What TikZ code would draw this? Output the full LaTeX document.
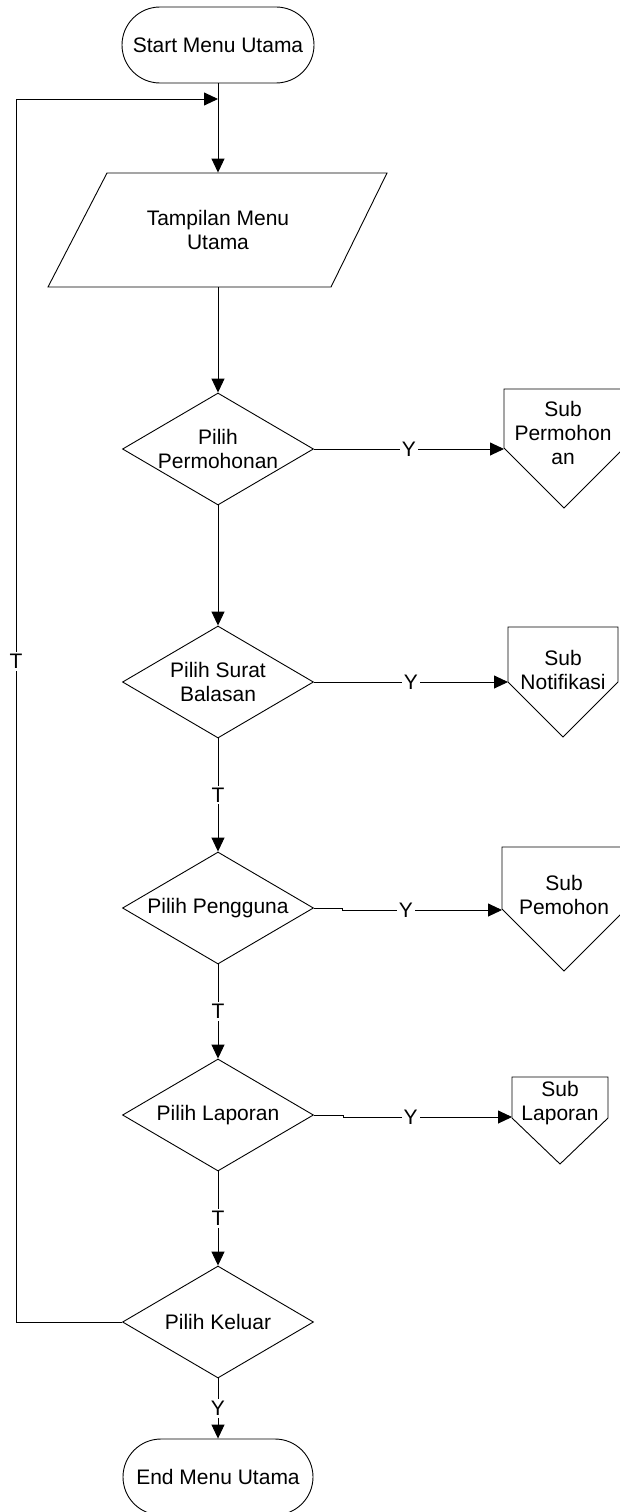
\documentclass[tikz,border=0pt]{standalone}
\usepackage{fontspec}
\setmainfont{Liberation Sans}
\usetikzlibrary{shapes.geometric,arrows.meta}
\begin{document}
\begin{tikzpicture}[x=1pt,y=-1pt, line width=0.9pt,
  >={Triangle[length=14pt,width=13pt]},
  every node/.style={font=\fontsize{21}{24}\selectfont, align=center, inner sep=0pt},
  term/.style={draw, rounded corners=38pt, minimum width=192pt, minimum height=76pt},
  decision/.style={draw, diamond, minimum width=191pt, minimum height=112pt},
  io/.style={minimum width=281pt, minimum height=114pt},
  flow/.style={->},
  tag/.style={fill=white, inner sep=2pt}]
\useasboundingbox (0,0) rectangle (619,1512);

% terminators
\node[term] (start) at (218,45) {Start Menu Utama};
\node[term, minimum width=190pt] (end) at (218,1477) {End Menu Utama};

% display (parallelogram)
\draw (107,173) -- (387,173) -- (331,287) -- (48,287) -- cycle;
\node[io] (disp) at (218,230) {Tampilan Menu\\Utama};

% decisions
\node[decision] (d1) at (218,449) {};
\node (d1t) at (d1) {Pilih\\Permohonan};
\node[decision] (d2) at (218,682) {};
\node (d2t) at (d2) {Pilih Surat\\Balasan};
\node[decision] (d3) at (218,908) {};
\node (d3t) at (d3) {Pilih Pengguna};
\node[decision] (d4) at (218,1115) {};
\node (d4t) at (d4) {Pilih Laporan};
\node[decision] (d5) at (218,1322) {};
\node (d5t) at (d5) {Pilih Keluar};

% off-page connectors
\draw (504,389) -- (624,389) -- (624,448) -- (564,508) -- (504,448) -- cycle;
\coordinate (c1in) at (504,448);
\node (c1t) at (563,433) {Sub\\Permohon\\an};
\draw (508,627) -- (618,627) -- (618,682) -- (563,737) -- (508,682) -- cycle;
\coordinate (c2in) at (508,682);
\node (c2t) at (563,670) {Sub\\Notifikasi};
\draw (502,847) -- (626,847) -- (626,909) -- (564,971) -- (502,909) -- cycle;
\coordinate (c3in) at (502,910);
\node (c3t) at (564,895) {Sub\\Pemohon};
\draw (512,1077) -- (608,1077) -- (608,1118) -- (560,1164) -- (512,1118) -- cycle;
\coordinate (c4in) at (512,1117);
\node (c4t) at (560,1103) {Sub\\Laporan};

% main flow
\coordinate (loopin) at (218,99);
\coordinate (lt) at (16,99);
\draw[flow] (start) -- (disp.north);
\draw[flow] (disp.south) -- (d1.north);
\draw[flow] (d1.south) -- (d2.north);
\draw[flow] (d2.south) -- node[tag]{T} (d3.north);
\draw[flow] (d3.south) -- node[tag]{T} (d4.north);
\draw[flow] (d4.south) -- node[tag]{T} (d5.north);
\draw[flow] (d5.south) -- node[tag]{Y} (end.north);

% branches to sub-menus
\draw[flow] (d1.east) -- node[tag]{Y} (d1.east -| c1in);
\draw[flow] (d2.east) -- node[tag]{Y} (d2.east -| c2in);
\draw[flow] (d3.east) -- ++(28,0) -- ++(0,2) -- node[tag, pos=0.4]{Y} (c3in);
\draw[flow] (d4.east) -- ++(29,0) -- ++(0,2) -- node[tag, pos=0.4]{Y} (c4in);

% back to menu
\draw[flow] (d5.west) -- (d5.west -| lt) -- node[tag, pos=0.54]{T} (lt) -- (loopin);
\end{tikzpicture}
\end{document}
